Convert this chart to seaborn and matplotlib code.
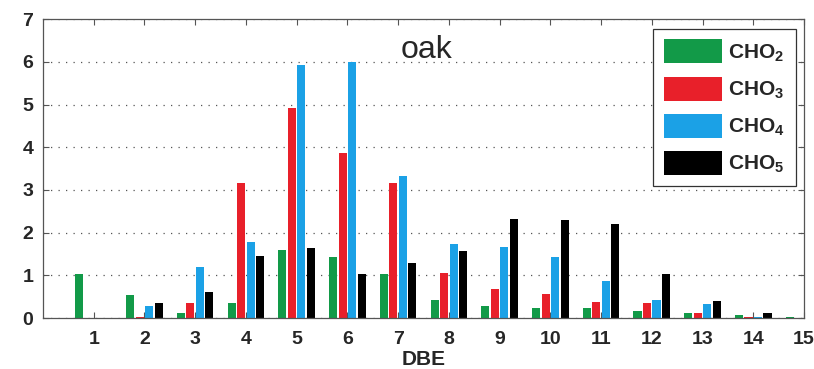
import numpy as np
import pandas as pd
import matplotlib
matplotlib.use("Agg")
import matplotlib.pyplot as plt
import seaborn as sns
from matplotlib.patches import Patch

dbe = [1, 2, 3, 4, 5, 6, 7, 8, 9, 10, 11, 12, 13, 14, 15]
cho2 = [1.03, 0.53, 0.12, 0.34, 1.59, 1.43, 1.03, 0.42, 0.27, 0.23, 0.23, 0.17, 0.12, 0.06, 0.02]
cho3 = [0.00, 0.03, 0.34, 3.16, 4.93, 3.86, 3.16, 1.05, 0.68, 0.57, 0.37, 0.34, 0.12, 0.03, 0.00]
cho4 = [0.00, 0.29, 1.20, 1.77, 5.93, 5.99, 3.33, 1.73, 1.66, 1.44, 0.87, 0.42, 0.33, 0.03, 0.00]
cho5 = [0.00, 0.36, 0.62, 1.45, 1.63, 1.03, 1.28, 1.58, 2.31, 2.30, 2.20, 1.02, 0.41, 0.11, 0.00]
series_names = ["CHO$_2$", "CHO$_3$", "CHO$_4$", "CHO$_5$"]
colors = ["#129a48", "#e8202a", "#1ba1e6", "#000000"]

sns.set_theme(style="white")
plt.rcParams["font.family"] = ["Liberation Sans", "DejaVu Sans"]
plt.rcParams["mathtext.default"] = "regular"

rows = []
for name, vals in zip(series_names, [cho2, cho3, cho4, cho5]):
    for d, v in zip(dbe, vals):
        rows.append({"DBE": d, "value": v, "series": name})
df = pd.DataFrame(rows)

fig = plt.figure(figsize=(8.14, 3.69), dpi=100)
ax = fig.add_axes([0.0528, 0.1382, 0.9349, 0.8095])

sns.barplot(data=df, x="DBE", y="value", hue="series", hue_order=series_names,
            palette=colors, native_scale=True, width=0.75, gap=0.15,
            saturation=1, errorbar=None, linewidth=0, ax=ax, legend=False)

ax.set_xlim(0, 15)
ax.set_ylim(0, 7)
ax.set_xticks(range(1, 16))
ax.set_xticklabels([str(i) for i in range(1, 16)], fontsize=14, fontweight="bold")
ax.set_yticks(range(0, 8))
ax.set_yticklabels([str(i) for i in range(0, 8)], fontsize=14, fontweight="bold")
ax.tick_params(axis="x", pad=9)
ax.tick_params(axis="y", pad=7)
ax.tick_params(direction="in", length=4, width=0.8, color="#555555",
               top=True, right=True, bottom=True, left=True)
for s in ax.spines.values():
    s.set_color("#555555")
    s.set_linewidth(0.9)
    s.set_visible(True)

ax.yaxis.grid(True, linestyle=(0, (1, 5)), color="#555555", linewidth=0.9)
ax.xaxis.grid(False)
ax.set_axisbelow(True)

ax.set_xlabel("DBE", fontsize=15, fontweight="bold", labelpad=2)
ax.set_ylabel("")

ax.text(7.55, 6.09, "oak", fontsize=23, ha="center", va="baseline")

handles = [Patch(facecolor=c, edgecolor="none") for c in colors]
leg = ax.legend(handles, series_names, loc="upper right",
                bbox_to_anchor=(0.989, 0.9675), borderaxespad=0,
                prop={"size": 15, "weight": "bold"}, handlelength=2.8, handleheight=1.4,
                labelspacing=0.62, handletextpad=0.3, borderpad=0.5,
                fancybox=False, framealpha=1, edgecolor="#333333")
leg.get_frame().set_linewidth(0.9)

fig.savefig("out.png", dpi=100)
